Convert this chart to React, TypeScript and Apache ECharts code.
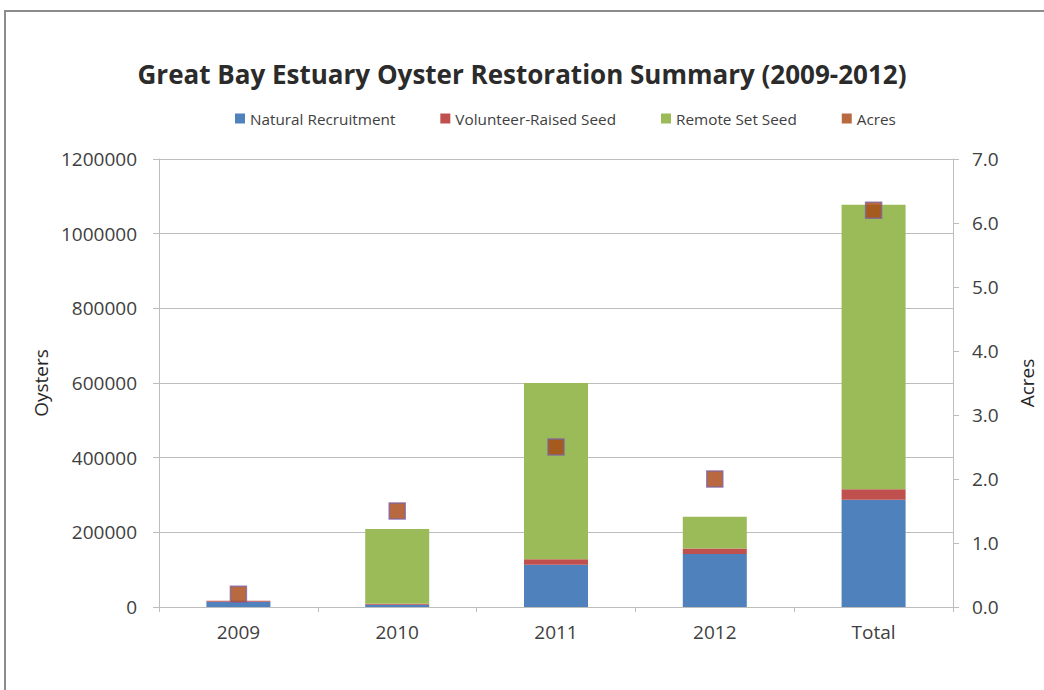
import React, { useEffect, useRef } from "react";
import * as echarts from "echarts";

const categories = ["2009", "2010", "2011", "2012", "Total"];
const naturalRecruitment = [14000, 6000, 113000, 142000, 287000];
const volunteerRaisedSeed = [3000, 3000, 15000, 15000, 28500];
const remoteSetSeed = [0, 200000, 472000, 85000, 762000];
const acres = [0.2, 1.5, 2.5, 2.0, 6.2];

const FONT = "Open Sans";
const LABEL = "#404040";
const GRID = "#BDBDBD";

export default function App() {
  const ref = useRef<HTMLDivElement>(null);
  useEffect(() => {
    if (!ref.current) return;
    const chart = echarts.init(ref.current, undefined, { renderer: "svg" });
    chart.setOption({
      animation: false,
      backgroundColor: "#ffffff",
      textStyle: { fontFamily: FONT },
      graphic: [
        {
          type: "rect",
          shape: { x: 5, y: 11, width: 1100, height: 760 },
          style: { fill: "none", stroke: "#8c8c8c", lineWidth: 2 },
          silent: true,
        },
      ],
      title: {
        text: "Great Bay Estuary Oyster Restoration Summary (2009-2012)",
        left: "center",
        top: 56,
        textStyle: { fontFamily: FONT, fontSize: 26, fontWeight: "bold", color: "#2b2b2b" },
      },
      legend: {
        left: 230,
        top: 106,
        icon: "rect",
        itemWidth: 10,
        itemHeight: 10,
        itemGap: 45,
        textStyle: { fontFamily: FONT, fontSize: 15.3, color: LABEL },
        data: [
          "Natural Recruitment",
          "Volunteer-Raised Seed",
          "Remote Set Seed",
          { name: "Acres", itemStyle: { borderWidth: 0 } },
        ],
      },
      grid: { left: 159, right: 85, top: 159, height: 448 },
      xAxis: {
        type: "category",
        data: categories,
        axisLine: { lineStyle: { color: GRID } },
        axisTick: { show: true, length: 5, lineStyle: { color: GRID } },
        axisLabel: { fontFamily: FONT, fontSize: 19, color: LABEL, margin: 15 },
      },
      yAxis: [
        {
          type: "value",
          min: 0,
          max: 1200000,
          interval: 200000,
          name: "Oysters",
          nameLocation: "middle",
          nameRotate: 90,
          nameGap: 94,
          nameTextStyle: { fontFamily: FONT, fontSize: 19, color: "#262626" },
          axisLine: { show: true, lineStyle: { color: GRID } },
          axisTick: { show: true, length: 6, lineStyle: { color: GRID } },
          splitLine: { lineStyle: { color: GRID } },
          axisLabel: {
            fontFamily: FONT,
            fontSize: 19,
            color: LABEL,
            margin: 22,
            formatter: (v: number) => String(v),
          },
        },
        {
          type: "value",
          min: 0,
          max: 7,
          interval: 1,
          position: "right",
          name: "Acres",
          nameLocation: "middle",
          nameRotate: 90,
          nameGap: 64,
          nameTextStyle: { fontFamily: FONT, fontSize: 19, color: "#262626" },
          axisLine: { show: true, lineStyle: { color: GRID } },
          axisTick: { show: true, length: 6, lineStyle: { color: GRID } },
          splitLine: { show: false },
          axisLabel: {
            fontFamily: FONT,
            fontSize: 19,
            color: LABEL,
            margin: 19,
            formatter: (v: number) => v.toFixed(1),
          },
        },
      ],
      series: [
        {
          name: "Natural Recruitment",
          type: "bar",
          stack: "oysters",
          barWidth: 64,
          itemStyle: { color: "#4F81BD" },
          data: naturalRecruitment,
        },
        {
          name: "Volunteer-Raised Seed",
          type: "bar",
          stack: "oysters",
          barWidth: 64,
          itemStyle: { color: "#C0504D" },
          data: volunteerRaisedSeed,
        },
        {
          name: "Remote Set Seed",
          type: "bar",
          stack: "oysters",
          barWidth: 64,
          itemStyle: { color: "#9BBB59" },
          data: remoteSetSeed,
        },
        {
          name: "Acres",
          type: "scatter",
          yAxisIndex: 1,
          symbol: "rect",
          symbolSize: 16,
          itemStyle: { color: "#A8430F", borderColor: "#7F63A0", borderWidth: 1.5 },
          data: acres,
          z: 5,
        },
      ],
    });
    return () => chart.dispose();
  }, []);
  return (
    <div
      ref={ref}
      style={{ position: "absolute", left: 0, top: 0, width: 1044, height: 690 }}
    />
  );
}
